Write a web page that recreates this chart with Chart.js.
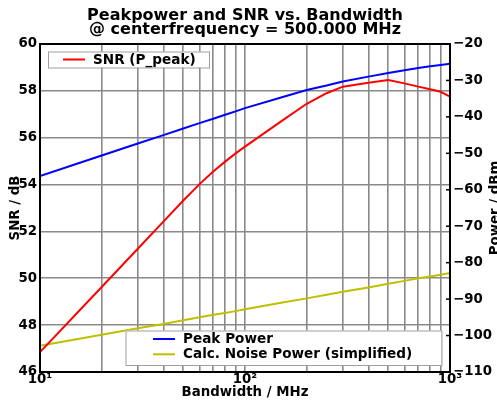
<!DOCTYPE html>
<html>
<head>
<meta charset="utf-8">
<script src="https://cdn.jsdelivr.net/npm/chart.js@4"></script>
<style>
html, body { margin: 0; padding: 0; background: #fff; }
</style>
</head>
<body>
<canvas id="bwchart" width="497" height="402"></canvas>
<script>
// bandwidth sweep, MHz
var bandwidth = [10, 20, 30, 40, 50, 60, 70, 80, 90, 100, 150, 200, 250, 300, 400, 500, 600, 700, 800, 900, 1000];
// SNR from peak power, dB (left axis)
var snrPeak = [46.85, 49.63, 51.26, 52.42, 53.32, 54.02, 54.56, 54.98, 55.33, 55.62, 56.7, 57.45, 57.9, 58.18, 58.35, 58.46, 58.32, 58.18, 58.07, 57.96, 57.75];
// powers, dBm (right axis)
var peakPower = [-56.2, -50.6, -47.3, -45.0, -43.2, -41.7, -40.5, -39.4, -38.5, -37.6, -34.7, -32.6, -31.4, -30.3, -28.95, -27.95, -27.2, -26.6, -26.1, -25.75, -25.45];
var noisePower = [-102.8, -99.8, -98.0, -96.8, -95.8, -95.0, -94.3, -93.8, -93.3, -92.8, -91.0, -89.8, -88.8, -88.0, -86.8, -85.8, -85.0, -84.3, -83.8, -83.3, -82.8];

var seriesLabels = ['SNR (P_peak)', 'Peak Power', 'Calc. Noise Power (simplified)'];
var seriesColors = ['#ff0000', '#0000ff', '#bfbf00'];

// x grid positions and decade labels
var xGridStops = [10, 20, 30, 40, 50, 60, 70, 80, 90, 100, 200, 300, 400, 500, 600, 700, 800, 900, 1000];
var xMajorTicks = [10, 100, 1000];
var xMajorLabels = ['10\u00b9', '10\u00b2', '10\u00b3'];

var titleLines = ['Peakpower and SNR vs. Bandwidth', '@ centerfrequency = 500.000 MHz'];
var xTitle = 'Bandwidth / MHz';
var yTitle = 'SNR / dB';
var y2Title = 'Power / dBm';

var FONT = '"DejaVu Sans", sans-serif';

function pts(ys) {
    return bandwidth.map(function (b, i) { return { x: b, y: ys[i] }; });
}

// negative numbers get a real minus sign
function fmt(v) {
    return v < 0 ? '\u2212' + Math.abs(v) : String(v);
}

// titles, frame and the two legend boxes
var decorations = {
    id: 'decorations',
    afterDatasetsDraw: function (chart) {
        var ctx = chart.ctx, a = chart.chartArea;
        var cx = (a.left + a.right) / 2;
        ctx.save();

        ctx.strokeStyle = '#000';
        ctx.lineWidth = 2;
        ctx.strokeRect(a.left, a.top, a.right - a.left, a.bottom - a.top);

        // inward ticks on the right spine
        var y2 = chart.scales.y2;
        ctx.lineWidth = 1.5;
        y2.ticks.forEach(function (t) {
            var py = y2.getPixelForValue(t.value);
            ctx.beginPath();
            ctx.moveTo(a.right - 4, py);
            ctx.lineTo(a.right, py);
            ctx.stroke();
        });

        ctx.fillStyle = '#000';
        ctx.textAlign = 'center';
        ctx.textBaseline = 'alphabetic';
        ctx.font = 'bold 16px ' + FONT;
        ctx.fillText(titleLines[0], cx, 19.5);
        ctx.fillText(titleLines[1], cx, 34);

        ctx.font = 'bold 13.33px ' + FONT;
        ctx.fillText(xTitle, cx, 395.5);

        ctx.save();
        ctx.translate(18.5, (a.top + a.bottom) / 2);
        ctx.rotate(-Math.PI / 2);
        ctx.fillText(yTitle, 0, 0);
        ctx.restore();

        ctx.save();
        ctx.translate(498.5, (a.top + a.bottom) / 2);
        ctx.rotate(-Math.PI / 2);
        ctx.fillText(y2Title, 0, 0);
        ctx.restore();

        // legend boxes
        function legendBox(x, y, w, h, rows) {
            ctx.fillStyle = '#fff';
            ctx.fillRect(x, y, w, h);
            ctx.strokeStyle = '#a0a0a0';
            ctx.lineWidth = 1;
            ctx.strokeRect(x + 0.5, y + 0.5, w, h);
            ctx.font = 'bold 13.6px ' + FONT;
            ctx.textAlign = 'left';
            ctx.textBaseline = 'middle';
            rows.forEach(function (r) {
                ctx.strokeStyle = seriesColors[r.i];
                ctx.lineWidth = 2;
                ctx.beginPath();
                ctx.moveTo(r.x, r.y);
                ctx.lineTo(r.x + 22, r.y);
                ctx.stroke();
                ctx.fillStyle = '#000';
                ctx.fillText(seriesLabels[r.i], r.x + 30, r.y + 0.5);
            });
        }
        legendBox(a.left + 8, a.top + 7.5, 161, 16, [{ i: 0, x: a.left + 23, y: a.top + 15.5 }]);
        legendBox(a.right - 324.5, a.bottom - 41.5, 316, 34.5, [
            { i: 1, x: a.right - 297, y: a.bottom - 33 },
            { i: 2, x: a.right - 297, y: a.bottom - 17.7 }
        ]);

        ctx.restore();
    }
};

var tickFont = { family: FONT, size: 13.33, weight: 'bold' };
var gridColor = '#8a8a8a';

new Chart(document.getElementById('bwchart').getContext('2d'), {
    type: 'line',
    data: {
        datasets: [
            { label: seriesLabels[0], data: pts(snrPeak), borderColor: seriesColors[0], yAxisID: 'y' },
            { label: seriesLabels[1], data: pts(peakPower), borderColor: seriesColors[1], yAxisID: 'y2' },
            { label: seriesLabels[2], data: pts(noisePower), borderColor: seriesColors[2], yAxisID: 'y2' }
        ]
    },
    options: {
        responsive: false,
        animation: false,
        devicePixelRatio: 1,
        layout: { padding: { top: 44, left: 0, right: 0, bottom: 0 } },
        elements: {
            line: { borderWidth: 2, tension: 0, fill: false },
            point: { radius: 0 }
        },
        plugins: {
            legend: { display: false },
            title: { display: false },
            tooltip: { enabled: false }
        },
        scales: {
            x: {
                type: 'logarithmic',
                min: 10,
                max: 1000,
                afterBuildTicks: function (scale) {
                    scale.ticks = xGridStops.map(function (v) { return { value: v }; });
                },
                afterFit: function (scale) { scale.height = 30; },
                ticks: {
                    autoSkip: false,
                    maxRotation: 0,
                    padding: 0,
                    color: '#000',
                    font: tickFont,
                    callback: function (v) {
                        var k = xMajorTicks.indexOf(v);
                        return k >= 0 ? xMajorLabels[k] : '';
                    }
                },
                grid: { color: gridColor, lineWidth: 1.6, tickLength: 0 },
                border: { display: false }
            },
            y: {
                position: 'left',
                min: 46,
                max: 60,
                afterFit: function (scale) { scale.width = 40; },
                ticks: { stepSize: 2, padding: 3, color: '#000', font: tickFont, callback: fmt },
                grid: { color: gridColor, lineWidth: 1.6, tickLength: 0 },
                border: { display: false }
            },
            y2: {
                position: 'right',
                min: -110,
                max: -20,
                afterFit: function (scale) { scale.width = 47; },
                ticks: { stepSize: 10, padding: 3, color: '#000', font: tickFont, callback: fmt },
                grid: { drawOnChartArea: false, tickLength: 0 },
                border: { display: false }
            }
        }
    },
    plugins: [decorations]
});
</script>
</body>
</html>
